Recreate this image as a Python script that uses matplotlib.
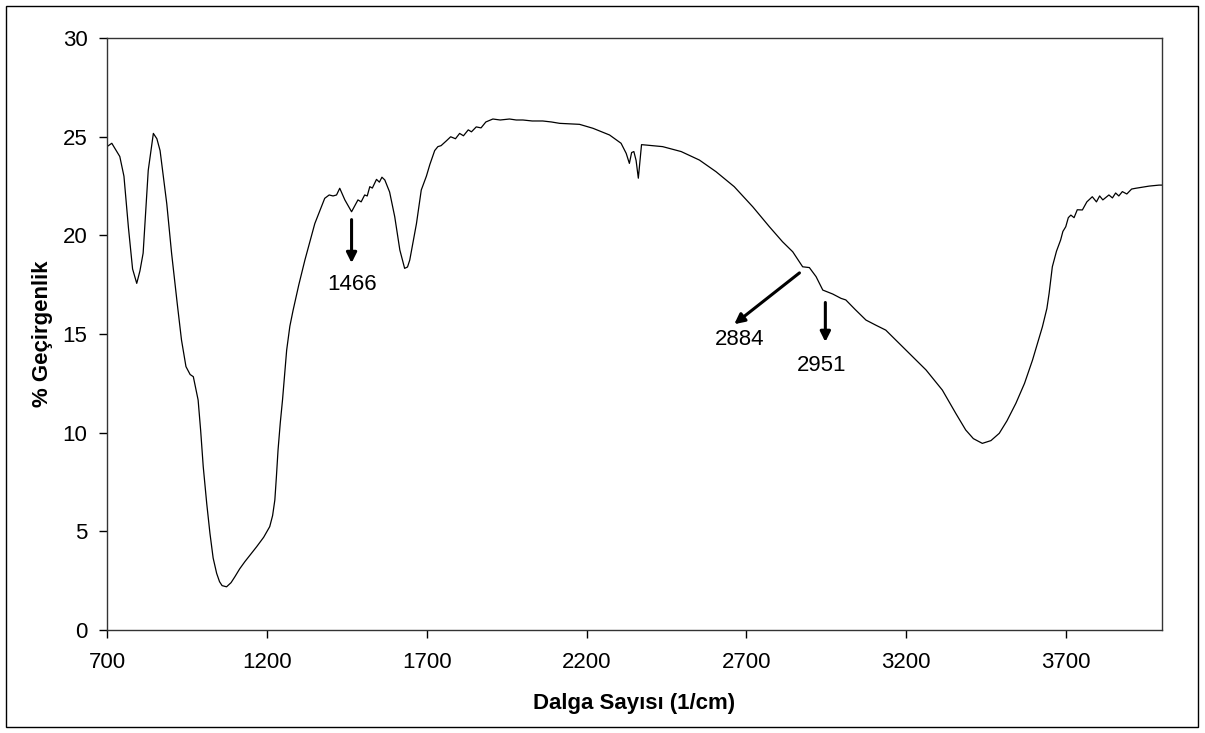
import matplotlib
matplotlib.use("Agg")
import matplotlib.pyplot as plt
from matplotlib.patches import Rectangle

# wavenumber (1/cm) and transmittance (%)
wavenumber = [
    700, 715, 740, 753, 767, 780, 793, 803, 813, 829, 845, 856, 866, 887, 902, 920,
    933, 947, 960, 970, 985, 993, 1001, 1012, 1022, 1032, 1043, 1052, 1060, 1074,
    1088, 1100, 1115, 1131, 1150, 1168, 1190, 1209, 1218, 1225, 1230, 1235, 1242,
    1249, 1256, 1262, 1272, 1282, 1300, 1319, 1350, 1381, 1395, 1407, 1418, 1428,
    1444, 1465, 1485, 1495, 1506, 1514, 1522, 1530, 1543, 1552, 1560, 1569, 1584,
    1600, 1616, 1631, 1640, 1647, 1668, 1683, 1690, 1699, 1710, 1725, 1735, 1745,
    1762, 1775, 1790, 1803, 1815, 1830, 1840, 1855, 1870, 1885, 1907, 1930, 1959,
    1980, 2001, 2030, 2063, 2090, 2116, 2150, 2178, 2220, 2272, 2308, 2324, 2334,
    2341, 2348, 2355, 2362, 2372, 2386, 2438, 2496, 2553, 2605, 2662, 2720, 2772,
    2813, 2845, 2876, 2897, 2918, 2939, 2970, 2996, 3011, 3040, 3074, 3105, 3136,
    3199, 3262, 3313, 3355, 3386, 3410, 3438, 3465, 3491, 3515, 3543, 3570, 3595,
    3626, 3640, 3647, 3657, 3670, 3683, 3690, 3699, 3707, 3715, 3725, 3735, 3751,
    3765, 3782, 3795, 3805, 3815, 3834, 3845, 3855, 3865, 3876, 3890, 3905, 3918,
    3940, 3960, 3991, 4000,
]
transmittance = [
    24.5, 24.67, 24.0, 23.0, 20.4, 18.3, 17.57, 18.2, 19.1, 23.3, 25.17, 24.9, 24.3,
    21.6, 19.1, 16.5, 14.7, 13.35, 12.95, 12.84, 11.66, 10.1, 8.28, 6.4, 4.9, 3.65,
    2.87, 2.45, 2.25, 2.19, 2.4, 2.7, 3.1, 3.46, 3.85, 4.22, 4.7, 5.24, 5.8, 6.59,
    7.8, 9.12, 10.5, 11.66, 13.0, 14.19, 15.4, 16.2, 17.5, 18.75, 20.6, 21.88, 22.05,
    22.0, 22.05, 22.39, 21.8, 21.2, 21.8, 21.7, 22.05, 22.0, 22.47, 22.4, 22.84, 22.7,
    22.95, 22.81, 22.2, 20.95, 19.26, 18.33, 18.4, 18.75, 20.6, 22.3, 22.6, 23.0,
    23.6, 24.3, 24.5, 24.55, 24.8, 25.0, 24.9, 25.17, 25.05, 25.35, 25.25, 25.5,
    25.45, 25.75, 25.9, 25.85, 25.9, 25.85, 25.85, 25.8, 25.8, 25.75, 25.68, 25.65,
    25.63, 25.43, 25.09, 24.67, 24.16, 23.65, 24.2, 24.25, 23.8, 22.9, 24.6, 24.58,
    24.5, 24.25, 23.82, 23.23, 22.47, 21.45, 20.44, 19.68, 19.17, 18.41, 18.37, 17.91,
    17.23, 17.03, 16.81, 16.73, 16.25, 15.71, 15.45, 15.2, 14.19, 13.18, 12.16, 10.98,
    10.14, 9.7, 9.46, 9.6, 9.97, 10.6, 11.49, 12.5, 13.68, 15.37, 16.3, 17.07, 18.41,
    19.2, 19.77, 20.2, 20.44, 20.9, 21.03, 20.9, 21.3, 21.29, 21.7, 21.96, 21.7, 22.0,
    21.8, 22.05, 21.9, 22.15, 22.0, 22.22, 22.1, 22.35, 22.39, 22.45, 22.5, 22.55,
    22.55,
]

# peak labels: (text, arrow tail, arrow head, text position) in data units
peak_labels = ["1466", "2884", "2951"]
arrow_tails = [(1465, 20.8), (2866, 18.1), (2947, 16.6)]
arrow_heads = [(1465, 18.6), (2662, 15.5), (2947, 14.6)]
label_pos = [(1465, 17.5), (2678, 14.7), (2934, 13.4)]

plt.rcParams["font.family"] = ["Liberation Sans", "DejaVu Sans"]

fig = plt.figure(figsize=(12.05, 7.33), dpi=100)
ax = fig.add_axes([0.0888, 0.1405, 0.8755, 0.8075])

ax.plot(wavenumber, transmittance, color="black", lw=0.9)

for txt, tail, head, pos in zip(peak_labels, arrow_tails, arrow_heads, label_pos):
    ax.annotate("", xy=head, xytext=tail,
                arrowprops=dict(arrowstyle="-|>", lw=2.2, color="black",
                                mutation_scale=15, shrinkA=0, shrinkB=0))
    ax.text(pos[0], pos[1], txt, ha="center", va="center", fontsize=16)

ax.set_xlim(700, 4000)
ax.set_ylim(0, 30)
ax.set_xticks([700, 1200, 1700, 2200, 2700, 3200, 3700])
ax.set_yticks([0, 5, 10, 15, 20, 25, 30])
ax.tick_params(direction="out", length=6, width=1, labelsize=16)
ax.tick_params(axis="x", pad=10)
ax.tick_params(axis="y", pad=8)

for sp in ax.spines.values():
    sp.set_linewidth(1)
    sp.set_color("#333333")

ax.set_xlabel("Dalga Sayısı (1/cm)", fontsize=16, fontweight="bold", labelpad=14)
ax.set_ylabel("% Geçirgenlik", fontsize=16, fontweight="bold", labelpad=7)

# outer frame around the chart
fig.patches.append(Rectangle((6 / 1205, 6 / 733), 1192 / 1205, 721 / 733,
                             transform=fig.transFigure, fill=False,
                             edgecolor="black", lw=1))

fig.savefig("out.png", dpi=100)
